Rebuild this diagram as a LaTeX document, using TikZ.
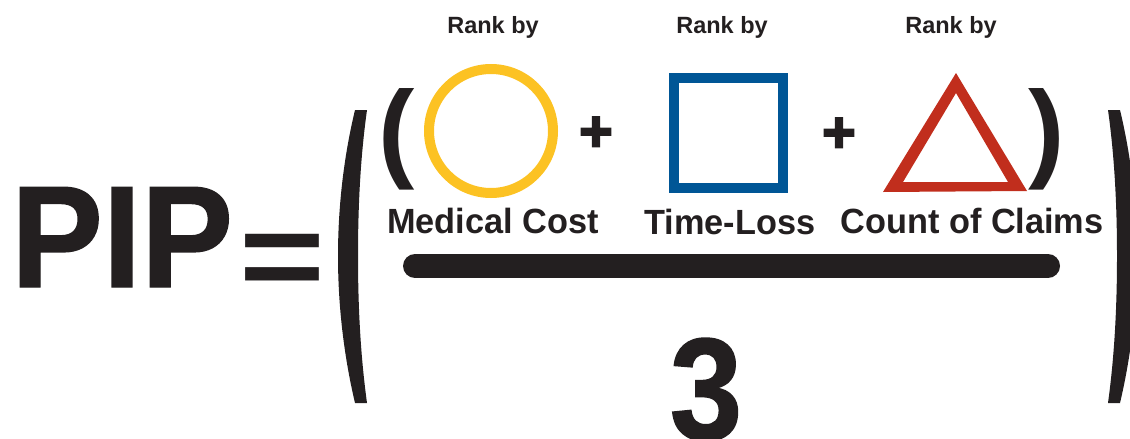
\documentclass[tikz,border=0pt]{standalone}
\usepackage{fontspec}
\setmainfont{Liberation Sans}
\newfontfamily\heavyfont{Liberation Sans Bold}
\newfontfamily\blackfont{Liberation Sans Bold}[FakeBold=1]
\newfontfamily\plusfont{Liberation Sans Bold}[FakeBold=3]
\definecolor{ink}{RGB}{35,31,32}
\definecolor{rankyellow}{RGB}{252,194,35}
\definecolor{rankblue}{RGB}{0,86,150}
\definecolor{rankred}{RGB}{193,46,29}
\tikzset{
  txt/.style={inner sep=0pt, outer sep=0pt, text=ink},
  ranklabel/.style={txt, anchor=base, font=\heavyfont\fontsize{23.5}{26}\selectfont},
  measure/.style={txt, anchor=base, font=\heavyfont\fontsize{35}{40}\selectfont, xscale=0.98},
  plussign/.style={txt, anchor=center, font=\plusfont\fontsize{58}{60}\selectfont},
  smallparen/.style={txt, anchor=center, font=\heavyfont\fontsize{109}{110}\selectfont},
  bigparen/.style={fill=ink, draw=none},
}
\begin{document}
\begin{tikzpicture}[x=1pt, y=-1pt]
\useasboundingbox (0,0) rectangle (1130,439);
% PIP =
\node[txt, anchor=base, font=\blackfont\fontsize{145}{150}\selectfont, xscale=0.95] (pip) at (122,287) {PIP};
\node[txt, anchor=center, font=\heavyfont\fontsize{147}{150}\selectfont, yscale=0.84] (eq) at (282,266.5) {=};
% big parentheses
\path[bigparen] (355,110) .. controls (343,160) and (338,210) .. (338,256)
  .. controls (338,302) and (343,352) .. (355,403) -- (367,403)
  .. controls (360,352) and (358,302) .. (358,256)
  .. controls (358,210) and (360,160) .. (367,110) -- cycle;
\path[bigparen] (1120,110) .. controls (1132,160) and (1137,210) .. (1137,256)
  .. controls (1137,302) and (1132,352) .. (1120,403) -- (1108,403)
  .. controls (1115,352) and (1117,302) .. (1117,256)
  .. controls (1117,210) and (1115,160) .. (1108,110) -- cycle;
% small parentheses
\node[smallparen] (lp) at (397,139) {(};
\node[smallparen] (rp) at (1047,139) {)};
% shapes
\draw[rankyellow, line width=10pt] (491,131) circle[radius=62];
\draw[rankblue, line width=10pt] (674,78) rectangle (783,188);
\path[fill=rankred, even odd rule] (956,73) -- (1027,191) -- (883,192) -- cycle
  (956,93) -- (1008,182) -- (903,182) -- cycle;
% plus signs
\node[plussign] (p1) at (596,134) {+};
\node[plussign] (p2) at (839,135) {+};
% labels
\node[ranklabel] (r1) at (493,34) {Rank by};
\node[ranklabel] (r2) at (722,34) {Rank by};
\node[ranklabel] (r3) at (951,34) {Rank by};
\node[measure] (m1) at (493,233) {Medical Cost};
\node[measure] (m2) at (730,234) {Time-Loss};
\node[measure] (m3) at (972,233) {Count of Claims};
% fraction bar and denominator
\coordinate (barL) at (415,266);
\coordinate (barR) at (1048,266);
\draw[ink, line width=24pt, line cap=round] (barL) -- (barR);
\node[txt, anchor=north, font=\blackfont\fontsize{145}{150}\selectfont, xscale=0.9] (three) at (706,338) {3};
\end{tikzpicture}
\end{document}
